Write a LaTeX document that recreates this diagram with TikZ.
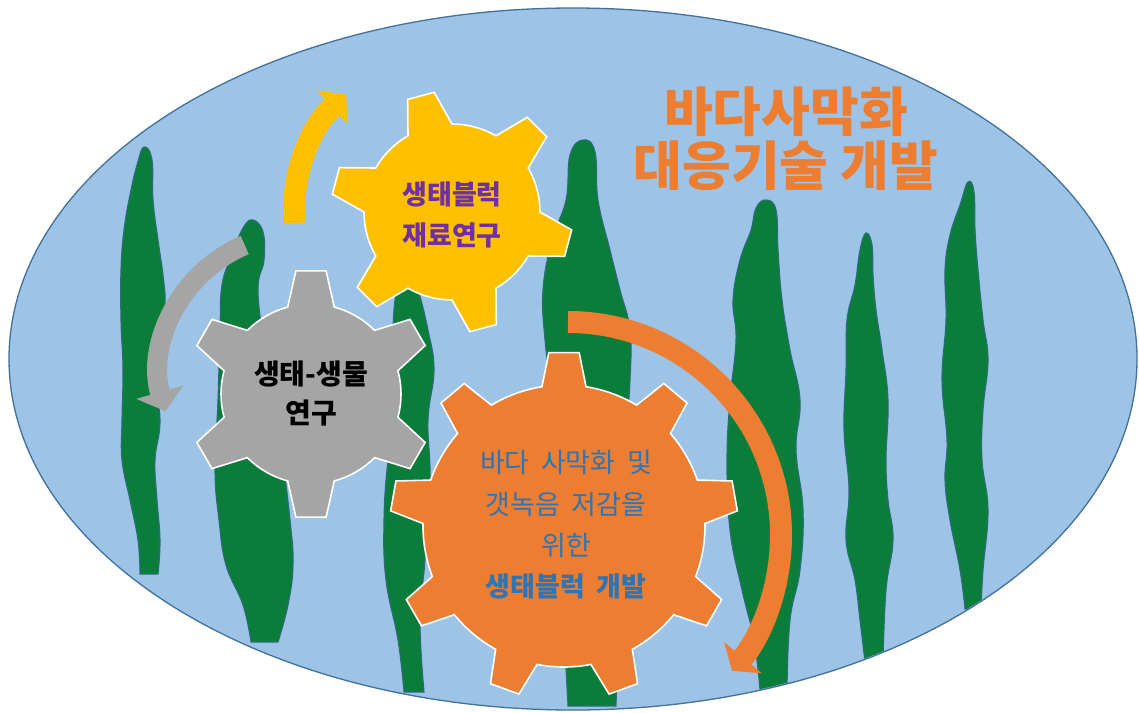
\documentclass[tikz,border=0pt]{standalone}
\usepackage{fontspec}
\setmainfont{Noto Sans CJK KR}
\usetikzlibrary{arrows.meta}
\definecolor{Sea}{HTML}{9DC3E6}
\definecolor{SeaLine}{HTML}{41719C}
\definecolor{Kelp}{HTML}{0B7D3A}
\definecolor{KelpEdge}{HTML}{2B6C7A}
\definecolor{Amber}{HTML}{FFC000}
\definecolor{Ash}{HTML}{A5A5A5}
\definecolor{Tangerine}{HTML}{ED7D31}
\definecolor{Plum}{HTML}{7030A0}
\definecolor{Ink}{HTML}{2E75B6}
\newcommand\widespace{\spaceskip=.42em\relax}
\tikzset{
  sea/.style={fill=Sea, draw=SeaLine, line width=1.3pt},
  kelp/.style={fill=Kelp, draw=KelpEdge, line width=1.1pt},
  gear/.style={draw=white, line width=1.6pt, line join=miter},
  ygear/.style={gear, fill=Amber},
  ggear/.style={gear, fill=Ash},
  ogear/.style={gear, fill=Tangerine},
  turn/.style={line width=22pt, -{Triangle[length=19pt,width=44pt]}},
  yturn/.style={turn, draw=Amber},
  gturn/.style={turn, draw=Ash, line width=20pt, -{Triangle[length=20pt,width=48pt]}},
  oturn/.style={turn, draw=Tangerine, -{Triangle[length=17pt,width=48pt]}},
  lbl/.style={align=center, inner sep=0pt},
  title/.style={lbl, text=Tangerine, font=\bfseries\fontsize{53}{54}\selectfont},
}

\begin{document}
\begin{tikzpicture}[x=1pt, y=-1pt]
  \useasboundingbox[fill=white] (0,0) rectangle (1139,712);
  \coordinate (sc) at (573,359);
  \coordinate (ygc) at (452,212);
  \coordinate (ggc) at (311,394);
  \coordinate (ogc) at (564,526);

  \draw[sea] (sc) ellipse [x radius=564, y radius=351];

  % kelp blades
  \begin{scope}
    \clip (sc) ellipse [x radius=563, y radius=350];
    \draw[kelp] plot[smooth, tension=0.7] coordinates {(140,574) (138,540) (130,500) (122,460) (122,420) (123,370) (121,320) (121,270) (124,230) (130,195) (137,165) (144,147) (152,160) (153,200) (158,240) (163,275) (165,305) (160,340) (154,370) (160,420) (155,460) (157,500) (160,540) (158,574)} -- cycle;
    \draw[kelp] plot[smooth, tension=0.7] coordinates {(251,642) (243,605) (226,565) (219,520) (215,470) (218,400) (220,330) (222,285) (232,255) (243,228) (253,220) (263,232) (264,260) (258,290) (265,350) (280,440) (290,520) (293,565) (288,605) (278,642)} -- cycle;
    \draw[kelp] plot[smooth, tension=0.7] coordinates {(404,692) (398,640) (386,580) (384,520) (388,460) (396,410) (393,350) (395,300) (402,283) (410,275) (418,290) (428,330) (434,370) (428,420) (430,480) (425,560) (420,620) (424,692)} -- cycle;
    \draw[kelp] plot[smooth, tension=0.7] coordinates {(568,706) (565,650) (560,560) (556,470) (552,400) (545,340) (543,290) (552,240) (566,200) (570,155) (583,140) (595,152) (598,200) (610,250) (620,290) (630,330) (630,380) (625,450) (620,550) (618,640) (616,706)} -- cycle;
    \draw[kelp] plot[smooth, tension=0.7] coordinates {(760,690) (754,640) (742,590) (730,530) (727,460) (730,400) (736,340) (733,300) (740,260) (751,230) (756,208) (766,200) (776,210) (778,250) (782,300) (790,350) (800,400) (796,450) (803,510) (800,570) (790,620) (787,690)} -- cycle;
    \draw[kelp] plot[smooth, tension=0.7] coordinates {(865,662) (860,620) (855,580) (846,540) (849,490) (844,430) (846,370) (847,320) (855,285) (860,250) (866,233) (872,245) (873,275) (876,310) (882,350) (888,400) (886,460) (888,500) (893,540) (886,590) (883,662)} -- cycle;
    \draw[kelp] plot[smooth, tension=0.7] coordinates {(965,609) (960,570) (950,520) (945,480) (947,440) (942,380) (946,320) (945,270) (950,235) (960,205) (968,182) (974,192) (975,230) (978,270) (983,320) (988,360) (983,410) (982,460) (988,510) (983,570) (981,609)} -- cycle;
  \end{scope}

  % gears
  \begin{scope}[shift={(ygc)}]
    \filldraw[ygear] (0:88) \foreach \a in {15,75,...,315} {-- (\a-15:88) -- (\a-6.5:121) -- (\a+6.5:121) -- (\a+15:88) arc[start angle=\a+15, end angle=\a+45, radius=88]} -- cycle;
  \end{scope}
  \begin{scope}[shift={(ggc)}]
    \filldraw[ggear] (15:90) \foreach \a in {30,90,...,330} {-- (\a-15:90) -- (\a-7:124) -- (\a+7:124) -- (\a+15:90) arc[start angle=\a+15, end angle=\a+45, radius=90]} -- cycle;
  \end{scope}
  \begin{scope}[shift={(ogc)}]
    \filldraw[ogear] (21:141) \foreach \a in {30,70,...,350} {-- (\a-9:141) -- (\a-5:174) -- (\a+5:174) -- (\a+9:141) arc[start angle=\a+9, end angle=\a+31, radius=141]} -- cycle;
  \end{scope}

  % turning arrows
  \draw[yturn] (ygc) ++(176:158) arc[start angle=176, end angle=228, radius=158];
  \draw[gturn] (299,373) ++(247:139) arc[start angle=247, end angle=164, radius=139];
  \draw[oturn] (568,535) ++(-90:213) arc[start angle=-90, end angle=39.6, radius=213];

  \node[lbl, text=Plum, font=\bfseries\fontsize{27}{41}\selectfont] (blockmat) at (452,215) {생태블럭\\재료연구};
  \node[lbl, text=black, font=\bfseries\fontsize{28}{39}\selectfont] (ecobio) at (311,394) {생태-생물\\연구};
  \node[lbl, text=Ink, font=\fontsize{27}{41.3}\selectfont\widespace] (ecoblock) at (566,525)
    {바다 사막화 및\\갯녹음 저감을\\위한\\\textbf{생태블럭 개발}};
  \node[title] (headline) at (786,139) {바다사막화\\대응기술 개발};
\end{tikzpicture}
\end{document}
